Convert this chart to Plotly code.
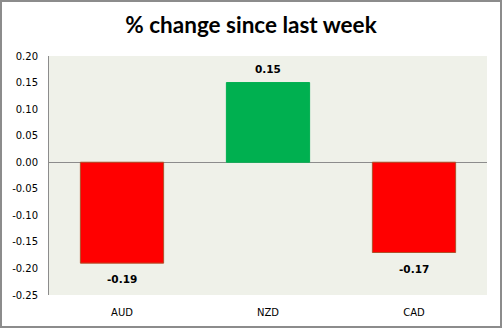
import plotly.graph_objects as go

categories = ["AUD", "NZD", "CAD"]
values = [-0.19, 0.15, -0.17]
labels = ["-0.19", "0.15", "-0.17"]
colors = ["#FF0000", "#00B050", "#FF0000"]
line_colors = ["#B0502A", "#00B050", "#B0502A"]
tick_vals = [0.20, 0.15, 0.10, 0.05, 0.0, -0.05, -0.10, -0.15, -0.20, -0.25]
tick_text = ["0.20", "0.15", "0.10", "0.05", "0.00", "-0.05", "-0.10", "-0.15", "-0.20", "-0.25"]

W, H = 502, 329
L, R, T, B = 49, 15, 56, 34
pw, ph = W - L - R, H - T - B

fig = go.Figure(go.Bar(
    x=categories, y=values,
    marker=dict(color=colors, line=dict(color=line_colors, width=1)),
    width=0.57, cliponaxis=False,
))

annotations = []
for c, v, t in zip(categories, values, labels):
    annotations.append(dict(
        x=c, y=v, text="<b>%s</b>" % t, showarrow=False,
        yshift=14 if v >= 0 else -16, yanchor="middle",
        font=dict(family="DejaVu Sans", size=10.5, color="#000000"),
    ))

fig.update_layout(
    width=W, height=H,
    margin=dict(l=L, r=R, t=T, b=B),
    paper_bgcolor="#FFFFFF", plot_bgcolor="#EFF1E9",
    title=dict(text="<b>% change since last week</b>", x=0.5, xanchor="center",
               y=1 - 25 / H, yanchor="middle",
               font=dict(family="Lato", size=22.5, color="#000000")),
    showlegend=False,
    annotations=annotations,
    xaxis=dict(showgrid=False, showline=False, ticks="", ticklabelstandoff=10,
               tickfont=dict(family="DejaVu Sans", size=10, color="#000000")),
    yaxis=dict(range=[-0.25, 0.20], tickvals=tick_vals, ticktext=tick_text,
               showgrid=False, zeroline=True, zerolinecolor="#8C8C8C", zerolinewidth=1,
               showline=True, linecolor="#8C8C8C", linewidth=1, ticks="",
               ticklabelstandoff=8,
               tickfont=dict(family="DejaVu Sans", size=10, color="#000000")),
    shapes=[dict(type="rect", xref="paper", yref="paper",
                 x0=(1 - L) / pw, x1=(W - 1 - L) / pw,
                 y0=-(H - 2 - (T + ph)) / ph, y1=(T + ph - 1) / ph,
                 line=dict(color="#8C8C8C", width=2), fillcolor="rgba(0,0,0,0)")],
)

fig.write_html("out.html")
